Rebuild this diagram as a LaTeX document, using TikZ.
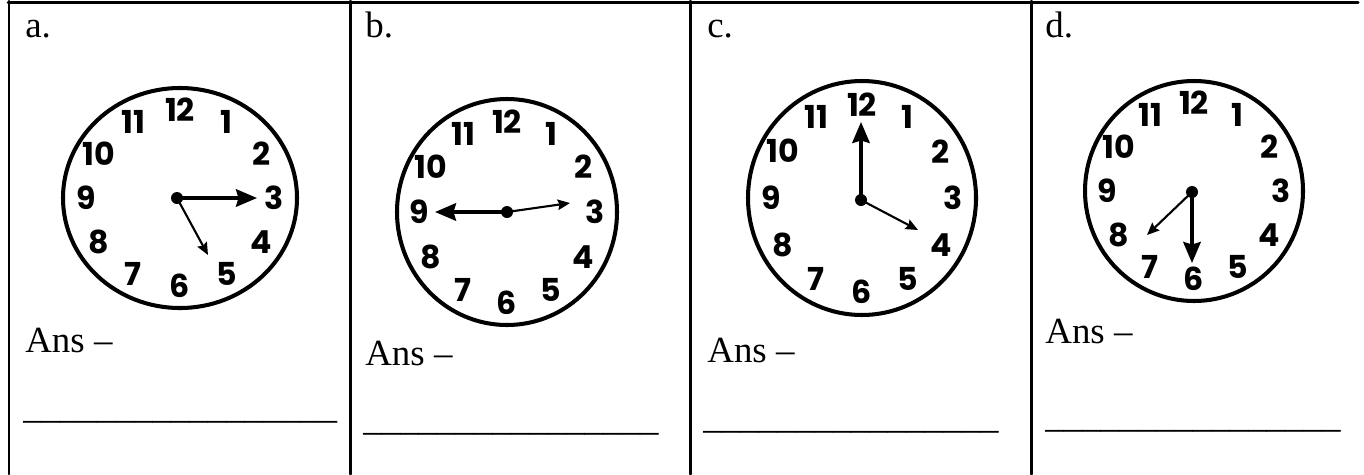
\documentclass[tikz,border=0pt]{standalone}
\usepackage{fontspec}
\setmainfont{Liberation Serif}
\newfontfamily\dialfont{Poppins}
\usetikzlibrary{arrows.meta}

\begin{document}
\begin{tikzpicture}[x=0.02cm, y=-0.02cm, >=Stealth, line join=round, line cap=round,
    grid/.style={line width=1.7pt},
    dial/.style={line width=2.3pt},
    num/.style={font=\dialfont\bfseries\fontsize{18}{18}\selectfont, inner sep=0pt},
    longhand/.style={line width=1.8pt, -{Stealth[length=12pt,width=10pt,inset=1.5pt]}},
    shorthand/.style={line width=1.2pt, -{Stealth[length=7pt,width=6pt,inset=1pt]}},
    txt/.style={font=\fontsize{21}{25}\selectfont, inner sep=0pt, anchor=base west}]
  \useasboundingbox (0,0) rectangle (1364,474);
  % table
  \draw[grid] (8,2.5) -- (1358,2.5);
  \foreach \x in {9,350,690,1031} \draw[grid] (\x,1) -- (\x,474);
  % clock faces
  \foreach \n/\cx/\cy/\rx/\ry/\hx/\hy in {A/180/198/117/110/177/198, B/507/212/110/113/507/212,
      C/862/198/114/117/861/200, D/1194/191/109/110/1192/192} {
    \draw[dial] (\cx,\cy) ellipse [x radius=\rx, y radius=\ry];
    \coordinate (ctr\n) at (\hx,\hy);
    \fill (ctr\n) circle [radius=6];
    \foreach \h in {1,...,12}
      \node[num] (h\n\h) at ({\cx+0.8*\rx*sin(30*\h)}, {\cy-0.8*\ry*cos(30*\h)}) {\h};
  }
  % hands
  \coordinate (tipA1) at (257,198); \coordinate (tipA2) at (208,255);
  \draw[longhand] (ctrA) -- (tipA1);
  \draw[shorthand] (ctrA) -- (tipA2);
  \coordinate (tipB1) at (435,212); \coordinate (tipB2) at (570,203);
  \draw[longhand] (ctrB) -- (tipB1);
  \draw[shorthand] (ctrB) -- (tipB2);
  \coordinate (tipC1) at (861,122); \coordinate (tipC2) at (918,230);
  \draw[longhand] (ctrC) -- (tipC1);
  \draw[shorthand] (ctrC) -- (tipC2);
  \coordinate (tipD1) at (1192,263); \coordinate (tipD2) at (1147,235);
  \draw[longhand] (ctrD) -- (tipD1);
  \draw[shorthand] (ctrD) -- (tipD2);
  % texts
  \node[txt] (labA) at (25,37) {a.};
  \node[txt] (labB) at (365,37) {b.};
  \node[txt] (labC) at (707,37) {c.};
  \node[txt] (labD) at (1045,37) {d.};
  \node[txt] (ansA) at (25,352) {Ans –};
  \node[txt] (ansB) at (365,365) {Ans –};
  \node[txt] (ansC) at (707,362) {Ans –};
  \node[txt] (ansD) at (1045,343) {Ans –};
  \node[txt] (lineA) at (23,418) {\_\_\_\_\_\_\_\_\_\_\_\_\_\_\_\_\_};
  \node[txt] (lineB) at (363,430) {\_\_\_\_\_\_\_\_\_\_\_\_\_\_\_\_};
  \node[txt] (lineC) at (703,428) {\_\_\_\_\_\_\_\_\_\_\_\_\_\_\_\_};
  \node[txt] (lineD) at (1045,427) {\_\_\_\_\_\_\_\_\_\_\_\_\_\_\_\_};
\end{tikzpicture}
\end{document}
